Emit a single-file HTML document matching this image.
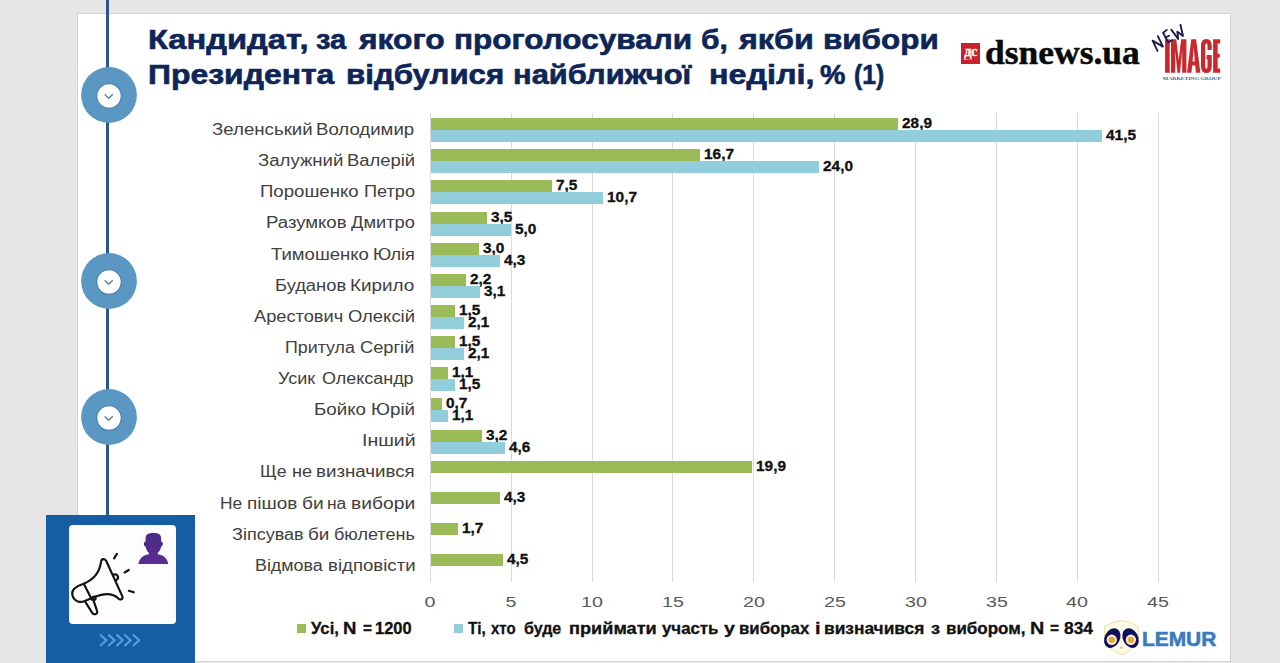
<!DOCTYPE html>
<html lang="uk"><head><meta charset="utf-8"><title>Chart</title>
<style>
html,body{margin:0;padding:0}
body{width:1280px;height:663px;overflow:hidden;background:#e6e6e6;position:relative;font-family:"Liberation Sans",sans-serif}
.abs{position:absolute}
.card{left:77.5px;top:14px;width:1152.5px;height:647px;background:#fff;box-shadow:0 0 0 1px #d2d2d2}
.title{color:#0d2557;-webkit-text-stroke:0.6px #0d2557;font-weight:bold;font-size:27px;line-height:35px;white-space:nowrap;transform-origin:0 50%}
.grid{top:113px;height:469px;width:1px;background:#dadada}
.bar{height:12px}
.cat{color:#404040;font-size:16px;line-height:20px;white-space:nowrap;transform-origin:0 50%}
.val{color:#111;-webkit-text-stroke:0.3px #111;font-weight:bold;font-size:14px;line-height:14px;white-space:nowrap;transform-origin:0 50%}
.ax{width:40px;text-align:center;top:593px;color:#595959;font-size:15.5px;line-height:18px}
.leg{top:618.5px;color:#111;-webkit-text-stroke:0.3px #111;font-weight:bold;font-size:15.8px;line-height:20px;white-space:nowrap;transform-origin:0 50%}
.vline{left:106.3px;width:3.1px;background:#2b5689}
svg{position:absolute;overflow:visible}
</style></head><body>
<div class="abs card"></div>
<div class="abs grid" style="left:429.7px"></div>
<div class="abs ax" style="left:410.2px;transform:scaleX(1.27)">0</div>
<div class="abs grid" style="left:510.6px"></div>
<div class="abs ax" style="left:491.1px;transform:scaleX(1.27)">5</div>
<div class="abs grid" style="left:591.5px"></div>
<div class="abs ax" style="left:572.0px;transform:scaleX(1.27)">10</div>
<div class="abs grid" style="left:672.4px"></div>
<div class="abs ax" style="left:652.9px;transform:scaleX(1.27)">15</div>
<div class="abs grid" style="left:753.3px"></div>
<div class="abs ax" style="left:733.8px;transform:scaleX(1.27)">20</div>
<div class="abs grid" style="left:834.2px"></div>
<div class="abs ax" style="left:814.7px;transform:scaleX(1.27)">25</div>
<div class="abs grid" style="left:915.1px"></div>
<div class="abs ax" style="left:895.6px;transform:scaleX(1.27)">30</div>
<div class="abs grid" style="left:996.0px"></div>
<div class="abs ax" style="left:976.5px;transform:scaleX(1.27)">35</div>
<div class="abs grid" style="left:1076.9px"></div>
<div class="abs ax" style="left:1057.4px;transform:scaleX(1.27)">40</div>
<div class="abs grid" style="left:1157.8px"></div>
<div class="abs ax" style="left:1138.3px;transform:scaleX(1.27)">45</div>
<div class="abs cat" style="left:212.20px;top:119.9px;transform:scaleX(1.1666)">Зеленський</div><div class="abs cat" style="left:316.44px;top:119.9px;transform:scaleX(1.1630)">Володимир</div>
<div class="abs bar" style="left:430.5px;top:118.1px;width:467.3px;background:#9bbb59"></div>
<div class="abs val" style="left:901.8px;top:116.1px;transform:scaleX(1.1)">28,9</div>
<div class="abs bar" style="left:430.5px;top:130.1px;width:671.2px;background:#92cddc"></div>
<div class="abs val" style="left:1105.7px;top:128.1px;transform:scaleX(1.1)">41,5</div>
<div class="abs cat" style="left:258.40px;top:151.0px;transform:scaleX(1.1619)">Залужний</div><div class="abs cat" style="left:347.25px;top:151.0px;transform:scaleX(1.1509)">Валерій</div>
<div class="abs bar" style="left:430.5px;top:149.2px;width:269.9px;background:#9bbb59"></div>
<div class="abs val" style="left:704.4px;top:147.2px;transform:scaleX(1.1)">16,7</div>
<div class="abs bar" style="left:430.5px;top:161.2px;width:388.0px;background:#92cddc"></div>
<div class="abs val" style="left:822.5px;top:159.2px;transform:scaleX(1.1)">24,0</div>
<div class="abs cat" style="left:259.64px;top:182.2px;transform:scaleX(1.1627)">Порошенко</div><div class="abs cat" style="left:363.57px;top:182.2px;transform:scaleX(1.1339)">Петро</div>
<div class="abs bar" style="left:430.5px;top:180.4px;width:121.0px;background:#9bbb59"></div>
<div class="abs val" style="left:555.5px;top:178.4px;transform:scaleX(1.1)">7,5</div>
<div class="abs bar" style="left:430.5px;top:192.4px;width:172.8px;background:#92cddc"></div>
<div class="abs val" style="left:607.3px;top:190.4px;transform:scaleX(1.1)">10,7</div>
<div class="abs cat" style="left:265.54px;top:213.3px;transform:scaleX(1.1603)">Разумков</div><div class="abs cat" style="left:350.60px;top:213.3px;transform:scaleX(1.1446)">Дмитро</div>
<div class="abs bar" style="left:430.5px;top:211.5px;width:56.3px;background:#9bbb59"></div>
<div class="abs val" style="left:490.8px;top:209.5px;transform:scaleX(1.1)">3,5</div>
<div class="abs bar" style="left:430.5px;top:223.5px;width:80.6px;background:#92cddc"></div>
<div class="abs val" style="left:515.1px;top:221.5px;transform:scaleX(1.1)">5,0</div>
<div class="abs cat" style="left:271.00px;top:244.5px;transform:scaleX(1.1576)">Тимошенко</div><div class="abs cat" style="left:373.37px;top:244.5px;transform:scaleX(1.1263)">Юлія</div>
<div class="abs bar" style="left:430.5px;top:242.7px;width:48.2px;background:#9bbb59"></div>
<div class="abs val" style="left:482.7px;top:240.7px;transform:scaleX(1.1)">3,0</div>
<div class="abs bar" style="left:430.5px;top:254.7px;width:69.3px;background:#92cddc"></div>
<div class="abs val" style="left:503.8px;top:252.7px;transform:scaleX(1.1)">4,3</div>
<div class="abs cat" style="left:274.95px;top:275.6px;transform:scaleX(1.1455)">Буданов</div><div class="abs cat" style="left:350.22px;top:275.6px;transform:scaleX(1.1808)">Кирило</div>
<div class="abs bar" style="left:430.5px;top:273.8px;width:35.3px;background:#9bbb59"></div>
<div class="abs val" style="left:469.8px;top:271.8px;transform:scaleX(1.1)">2,2</div>
<div class="abs bar" style="left:430.5px;top:285.8px;width:49.9px;background:#92cddc"></div>
<div class="abs val" style="left:484.4px;top:283.8px;transform:scaleX(1.1)">3,1</div>
<div class="abs cat" style="left:253.90px;top:306.7px;transform:scaleX(1.1391)">Арестович</div><div class="abs cat" style="left:348.40px;top:306.7px;transform:scaleX(1.1514)">Олексій</div>
<div class="abs bar" style="left:430.5px;top:304.9px;width:24.0px;background:#9bbb59"></div>
<div class="abs val" style="left:458.5px;top:302.9px;transform:scaleX(1.1)">1,5</div>
<div class="abs bar" style="left:430.5px;top:316.9px;width:33.7px;background:#92cddc"></div>
<div class="abs val" style="left:468.2px;top:314.9px;transform:scaleX(1.1)">2,1</div>
<div class="abs cat" style="left:284.59px;top:337.9px;transform:scaleX(1.1128)">Притула</div><div class="abs cat" style="left:360.40px;top:337.9px;transform:scaleX(1.1403)">Сергій</div>
<div class="abs bar" style="left:430.5px;top:336.1px;width:24.0px;background:#9bbb59"></div>
<div class="abs val" style="left:458.5px;top:334.1px;transform:scaleX(1.1)">1,5</div>
<div class="abs bar" style="left:430.5px;top:348.1px;width:33.7px;background:#92cddc"></div>
<div class="abs val" style="left:468.2px;top:346.1px;transform:scaleX(1.1)">2,1</div>
<div class="abs cat" style="left:278.40px;top:369.0px;transform:scaleX(1.1254)">Усик</div><div class="abs cat" style="left:322.00px;top:369.0px;transform:scaleX(1.1217)">Олександр</div>
<div class="abs bar" style="left:430.5px;top:367.2px;width:17.5px;background:#9bbb59"></div>
<div class="abs val" style="left:452.0px;top:365.2px;transform:scaleX(1.1)">1,1</div>
<div class="abs bar" style="left:430.5px;top:379.2px;width:24.0px;background:#92cddc"></div>
<div class="abs val" style="left:458.5px;top:377.2px;transform:scaleX(1.1)">1,5</div>
<div class="abs cat" style="left:314.13px;top:400.2px;transform:scaleX(1.1720)">Бойко</div><div class="abs cat" style="left:371.33px;top:400.2px;transform:scaleX(1.1736)">Юрій</div>
<div class="abs bar" style="left:430.5px;top:398.4px;width:11.0px;background:#9bbb59"></div>
<div class="abs val" style="left:445.5px;top:396.4px;transform:scaleX(1.1)">0,7</div>
<div class="abs bar" style="left:430.5px;top:410.4px;width:17.5px;background:#92cddc"></div>
<div class="abs val" style="left:452.0px;top:408.4px;transform:scaleX(1.1)">1,1</div>
<div class="abs cat" style="left:361.88px;top:431.3px;transform:scaleX(1.2175)">Інший</div>
<div class="abs bar" style="left:430.5px;top:429.5px;width:51.5px;background:#9bbb59"></div>
<div class="abs val" style="left:486.0px;top:427.5px;transform:scaleX(1.1)">3,2</div>
<div class="abs bar" style="left:430.5px;top:441.5px;width:74.1px;background:#92cddc"></div>
<div class="abs val" style="left:508.6px;top:439.5px;transform:scaleX(1.1)">4,6</div>
<div class="abs cat" style="left:260.09px;top:462.4px;transform:scaleX(1.1087)">Ще</div><div class="abs cat" style="left:291.97px;top:462.4px;transform:scaleX(1.1345)">не</div><div class="abs cat" style="left:316.43px;top:462.4px;transform:scaleX(1.1686)">визначився</div>
<div class="abs bar" style="left:430.5px;top:460.6px;width:321.7px;background:#9bbb59"></div>
<div class="abs val" style="left:756.2px;top:458.6px;transform:scaleX(1.1)">19,9</div>
<div class="abs cat" style="left:219.92px;top:493.6px;transform:scaleX(1.0841)">Не</div><div class="abs cat" style="left:246.82px;top:493.6px;transform:scaleX(1.1843)">пішов</div><div class="abs cat" style="left:302.00px;top:493.6px;transform:scaleX(1.1944)">би</div><div class="abs cat" style="left:327.31px;top:493.6px;transform:scaleX(1.0870)">на</div><div class="abs cat" style="left:351.30px;top:493.6px;transform:scaleX(1.2024)">вибори</div>
<div class="abs bar" style="left:430.5px;top:491.8px;width:69.3px;background:#9bbb59"></div>
<div class="abs val" style="left:503.8px;top:489.8px;transform:scaleX(1.1)">4,3</div>
<div class="abs cat" style="left:231.80px;top:524.7px;transform:scaleX(1.1268)">Зіпсував</div><div class="abs cat" style="left:308.20px;top:524.7px;transform:scaleX(1.1769)">би</div><div class="abs cat" style="left:334.30px;top:524.7px;transform:scaleX(1.1261)">бюлетень</div>
<div class="abs bar" style="left:430.5px;top:522.9px;width:27.2px;background:#9bbb59"></div>
<div class="abs val" style="left:461.7px;top:520.9px;transform:scaleX(1.1)">1,7</div>
<div class="abs cat" style="left:255.39px;top:555.9px;transform:scaleX(1.1141)">Відмова</div><div class="abs cat" style="left:327.84px;top:555.9px;transform:scaleX(1.1631)">відповісти</div>
<div class="abs bar" style="left:430.5px;top:554.1px;width:72.5px;background:#9bbb59"></div>
<div class="abs val" style="left:507.0px;top:552.1px;transform:scaleX(1.1)">4,5</div>
<div class="abs title" style="left:147.54px;top:22.5px;transform:scaleX(1.2095)">Кандидат,</div><div class="abs title" style="left:316.25px;top:22.5px;transform:scaleX(1.0752)">за</div><div class="abs title" style="left:358.68px;top:22.5px;transform:scaleX(1.1768)">якого</div><div class="abs title" style="left:453.83px;top:22.5px;transform:scaleX(1.1670)">проголосували</div><div class="abs title" style="left:700.89px;top:22.5px;transform:scaleX(1.1072)">б,</div><div class="abs title" style="left:738.80px;top:22.5px;transform:scaleX(1.1962)">якби</div><div class="abs title" style="left:822.74px;top:22.5px;transform:scaleX(1.1635)">вибори</div>
<div class="abs title" style="left:147.57px;top:57.5px;transform:scaleX(1.1816)">Президента</div><div class="abs title" style="left:346.34px;top:57.5px;transform:scaleX(1.1568)">відбулися</div><div class="abs title" style="left:512.61px;top:57.5px;transform:scaleX(1.1435)">найближчої</div><div class="abs title" style="left:709.00px;top:57.5px;transform:scaleX(1.1972)">неділі,</div><div class="abs title" style="left:819.80px;top:57.5px;transform:scaleX(1.0583)">%</div><div class="abs title" style="left:854.48px;top:57.5px;transform:scaleX(0.9159)">(1)</div>
<div class="abs" style="left:296.5px;top:624px;width:9px;height:9px;background:#9bbb59"></div>
<div class="abs leg" style="left:310.50px;top:618.5px;transform:scaleX(1.0575)">Усі,</div><div class="abs leg" style="left:343.32px;top:618.5px;transform:scaleX(1.1750)">N</div><div class="abs leg" style="left:362.50px;top:618.5px;transform:scaleX(0.9722)">=</div><div class="abs leg" style="left:375.21px;top:618.5px;transform:scaleX(1.0406)">1200</div>
<div class="abs" style="left:454px;top:624px;width:9px;height:9px;background:#92cddc"></div>
<div class="abs leg" style="left:467.50px;top:618.5px;transform:scaleX(0.9702)">Ті,</div><div class="abs leg" style="left:491.25px;top:618.5px;transform:scaleX(0.9501)">хто</div><div class="abs leg" style="left:523.75px;top:618.5px;transform:scaleX(1.0144)">буде</div><div class="abs leg" style="left:569.35px;top:618.5px;transform:scaleX(1.1493)">приймати</div><div class="abs leg" style="left:662.00px;top:618.5px;transform:scaleX(1.0654)">участь</div><div class="abs leg" style="left:723.75px;top:618.5px;transform:scaleX(1.2500)">у</div><div class="abs leg" style="left:739.44px;top:618.5px;transform:scaleX(1.0649)">виборах</div><div class="abs leg" style="left:814.53px;top:618.5px;transform:scaleX(1.2667)">і</div><div class="abs leg" style="left:824.40px;top:618.5px;transform:scaleX(1.0976)">визначився</div><div class="abs leg" style="left:931.25px;top:618.5px;transform:scaleX(1.1562)">з</div><div class="abs leg" style="left:945.93px;top:618.5px;transform:scaleX(1.0743)">вибором,</div><div class="abs leg" style="left:1030.00px;top:618.5px;transform:scaleX(1.2500)">N</div><div class="abs leg" style="left:1050.00px;top:618.5px;transform:scaleX(0.9722)">=</div><div class="abs leg" style="left:1063.75px;top:618.5px;transform:scaleX(1.1008)">834</div>
<div class="abs vline" style="top:0;height:520px"></div>
<svg style="left:79.4px;top:65.0px" width="60" height="60" viewBox="-30 -30 60 60"><circle r="27.9" fill="#5a97c3"/><circle cx="0" cy="0.9" r="12.7" fill="#4a80ab"/><circle cx="0" cy="0.9" r="11.7" fill="#fff"/><path d="M-3.9 -0.3 L-0.3 3.2 L3.3 -0.3" fill="none" stroke="#5f819f" stroke-width="1.5" stroke-linecap="round" stroke-linejoin="round"/></svg>
<svg style="left:79.4px;top:251.2px" width="60" height="60" viewBox="-30 -30 60 60"><circle r="27.9" fill="#5a97c3"/><circle cx="0" cy="0.9" r="12.7" fill="#4a80ab"/><circle cx="0" cy="0.9" r="11.7" fill="#fff"/><path d="M-3.9 -0.3 L-0.3 3.2 L3.3 -0.3" fill="none" stroke="#5f819f" stroke-width="1.5" stroke-linecap="round" stroke-linejoin="round"/></svg>
<svg style="left:79.4px;top:386.9px" width="60" height="60" viewBox="-30 -30 60 60"><circle r="27.9" fill="#5a97c3"/><circle cx="0" cy="0.9" r="12.7" fill="#4a80ab"/><circle cx="0" cy="0.9" r="11.7" fill="#fff"/><path d="M-3.9 -0.3 L-0.3 3.2 L3.3 -0.3" fill="none" stroke="#5f819f" stroke-width="1.5" stroke-linecap="round" stroke-linejoin="round"/></svg>
<div class="abs" style="left:45.7px;top:515.3px;width:149.3px;height:148px;background:#165ea4"></div>
<div class="abs" style="left:68.6px;top:524.6px;width:107.5px;height:99.6px;background:#fdfdfd;border-radius:4px"></div>
<svg style="left:66px;top:545px" width="80" height="75" viewBox="0 0 707 663" fill="none" stroke="#111" stroke-width="19" stroke-linecap="round" stroke-linejoin="round"><path d="M150 345 C230 315 295 255 310 150 C313 118 345 118 356 142 L497 452 C508 478 480 492 462 472 C420 430 350 425 275 450 L160 498 C110 515 58 485 55 430 C53 385 100 362 150 345 Z"/><path d="M158 345 L228 482"/><path d="M172 505 L232 600 C245 622 285 612 275 585 L242 488"/><circle cx="248" cy="470" r="14"/><path d="M420 262 C455 250 475 290 445 310"/><path d="M425 118 L450 78"/><path d="M518 243 L555 221"/><path d="M555 405 L600 418"/></svg>
<svg style="left:60px;top:520px" width="130" height="110" viewBox="0 0 784 663"><defs><linearGradient id="pg" x1="0" y1="0" x2="0" y2="1"><stop offset="0" stop-color="#4a2a86"/><stop offset="1" stop-color="#5a2d90"/></linearGradient></defs><path fill="url(#pg)" d="M516 112 C516 88 530 78 563 78 C596 78 610 88 610 112 L610 130 C624 130 624 158 610 160 C607 180 598 192 590 198 L590 206 C630 212 650 238 653 265 L473 265 C476 238 496 212 536 206 L536 198 C528 192 519 180 516 160 C502 158 502 130 516 130 Z"/></svg>
<svg style="left:90px;top:625px" width="60" height="30" viewBox="0 0 1280 640" fill="none" stroke="#5c9fe3" stroke-width="42" stroke-linecap="round" stroke-linejoin="round"><path d="M225 212 L350 325 L225 436"/><path d="M400 212 L525 325 L400 436"/><path d="M575 212 L700 325 L575 436"/><path d="M745 212 L870 325 L745 436"/><path d="M925 212 L1050 325 L925 436"/></svg>
<div class="abs" style="left:961px;top:43px;width:19px;height:20.5px;background:#c8222d"></div>
<div class="abs" style="left:961px;top:43.6px;width:19px;text-align:center;color:#fff;font-family:'Liberation Serif',serif;font-weight:bold;font-size:14.5px;line-height:14px;letter-spacing:-0.6px;-webkit-text-stroke:0.3px #fff">дс</div>
<div class="abs" style="left:964px;top:59.3px;width:8px;height:0;border-top:1px dotted rgba(255,255,255,.75)"></div>
<div class="abs" id="ds" style="left:984.5px;top:31.5px;-webkit-text-stroke:0.5px #0a0a0a;font-family:'Liberation Serif',serif;font-weight:bold;font-size:34.5px;line-height:40px;color:#0a0a0a;white-space:nowrap;transform-origin:0 50%;transform:scaleX(1.0284)">dsnews.ua</div>
<svg style="left:1145px;top:20px" width="90" height="70" viewBox="0 0 852 663"><g fill="#c9282c"><rect x="190" y="182" width="44" height="318"/><polygon points="246,500 246,182 296,182 319,380 342,182 392,182 392,500 352,500 352,290 331,500 307,500 286,290 286,500"/><path fill-rule="evenodd" d="M398 500 L438 182 L484 182 L524 500 L482 500 L476 432 L446 432 L440 500 Z M450 392 L472 392 L461 262 Z"/><polygon points="645,182 712,182 712,222 688,222 688,320 708,320 708,358 688,358 688,460 712,460 712,500 645,500"/></g><path d="M612 285 L612 245 Q612 200 581 200 Q550 200 550 245 L550 437 Q550 482 581 482 Q612 482 612 437 L612 352 L583 352" fill="none" stroke="#c9282c" stroke-width="40"/><text x="444" y="568" text-anchor="middle" font-family="Liberation Serif, serif" font-weight="bold" font-size="46" fill="#3d5f8f" textLength="550" lengthAdjust="spacingAndGlyphs">MARKETING GROUP</text></svg>
<svg style="left:1148px;top:20px" width="44" height="36" viewBox="0 0 810 663" fill="none" stroke="#1c184d" stroke-width="34" stroke-linecap="round" stroke-linejoin="round"><path d="M175 570 L85 380 L275 490 L182 298"/><path d="M345 182 L278 235 L372 412 L440 372"/><path d="M322 322 L388 290"/><path d="M428 178 L555 350 L540 215 L645 295 L597 88"/></svg>
<svg style="left:1098px;top:615px" width="50" height="45" viewBox="0 0 737 663"><path d="M100 170 Q340 0 590 170 L592 330 Q560 500 345 585 Q130 500 98 330 Z" fill="#fffbea" stroke="#efd88f" stroke-width="14"/><ellipse cx="345" cy="482" rx="22" ry="16" fill="#d9c27c"/><g transform="translate(210 340) rotate(28)"><ellipse rx="112" ry="152" fill="#10105c"/></g><g transform="translate(480 340) rotate(-28)"><ellipse rx="112" ry="152" fill="#10105c"/></g><circle cx="203" cy="365" r="76" fill="#fde9e2"/><circle cx="203" cy="365" r="46" fill="#e9a81f"/><circle cx="485" cy="365" r="76" fill="#fde9e2"/><circle cx="485" cy="365" r="46" fill="#e9a81f"/></svg>
<div class="abs" id="lem" style="left:1141.8px;top:626.5px;-webkit-text-stroke:0.6px #3a7bbd;font-weight:bold;font-size:21px;line-height:24px;color:#3a7bbd;white-space:nowrap;transform-origin:0 50%;transform:scaleX(0.9950)">LEMUR</div>
</body></html>
